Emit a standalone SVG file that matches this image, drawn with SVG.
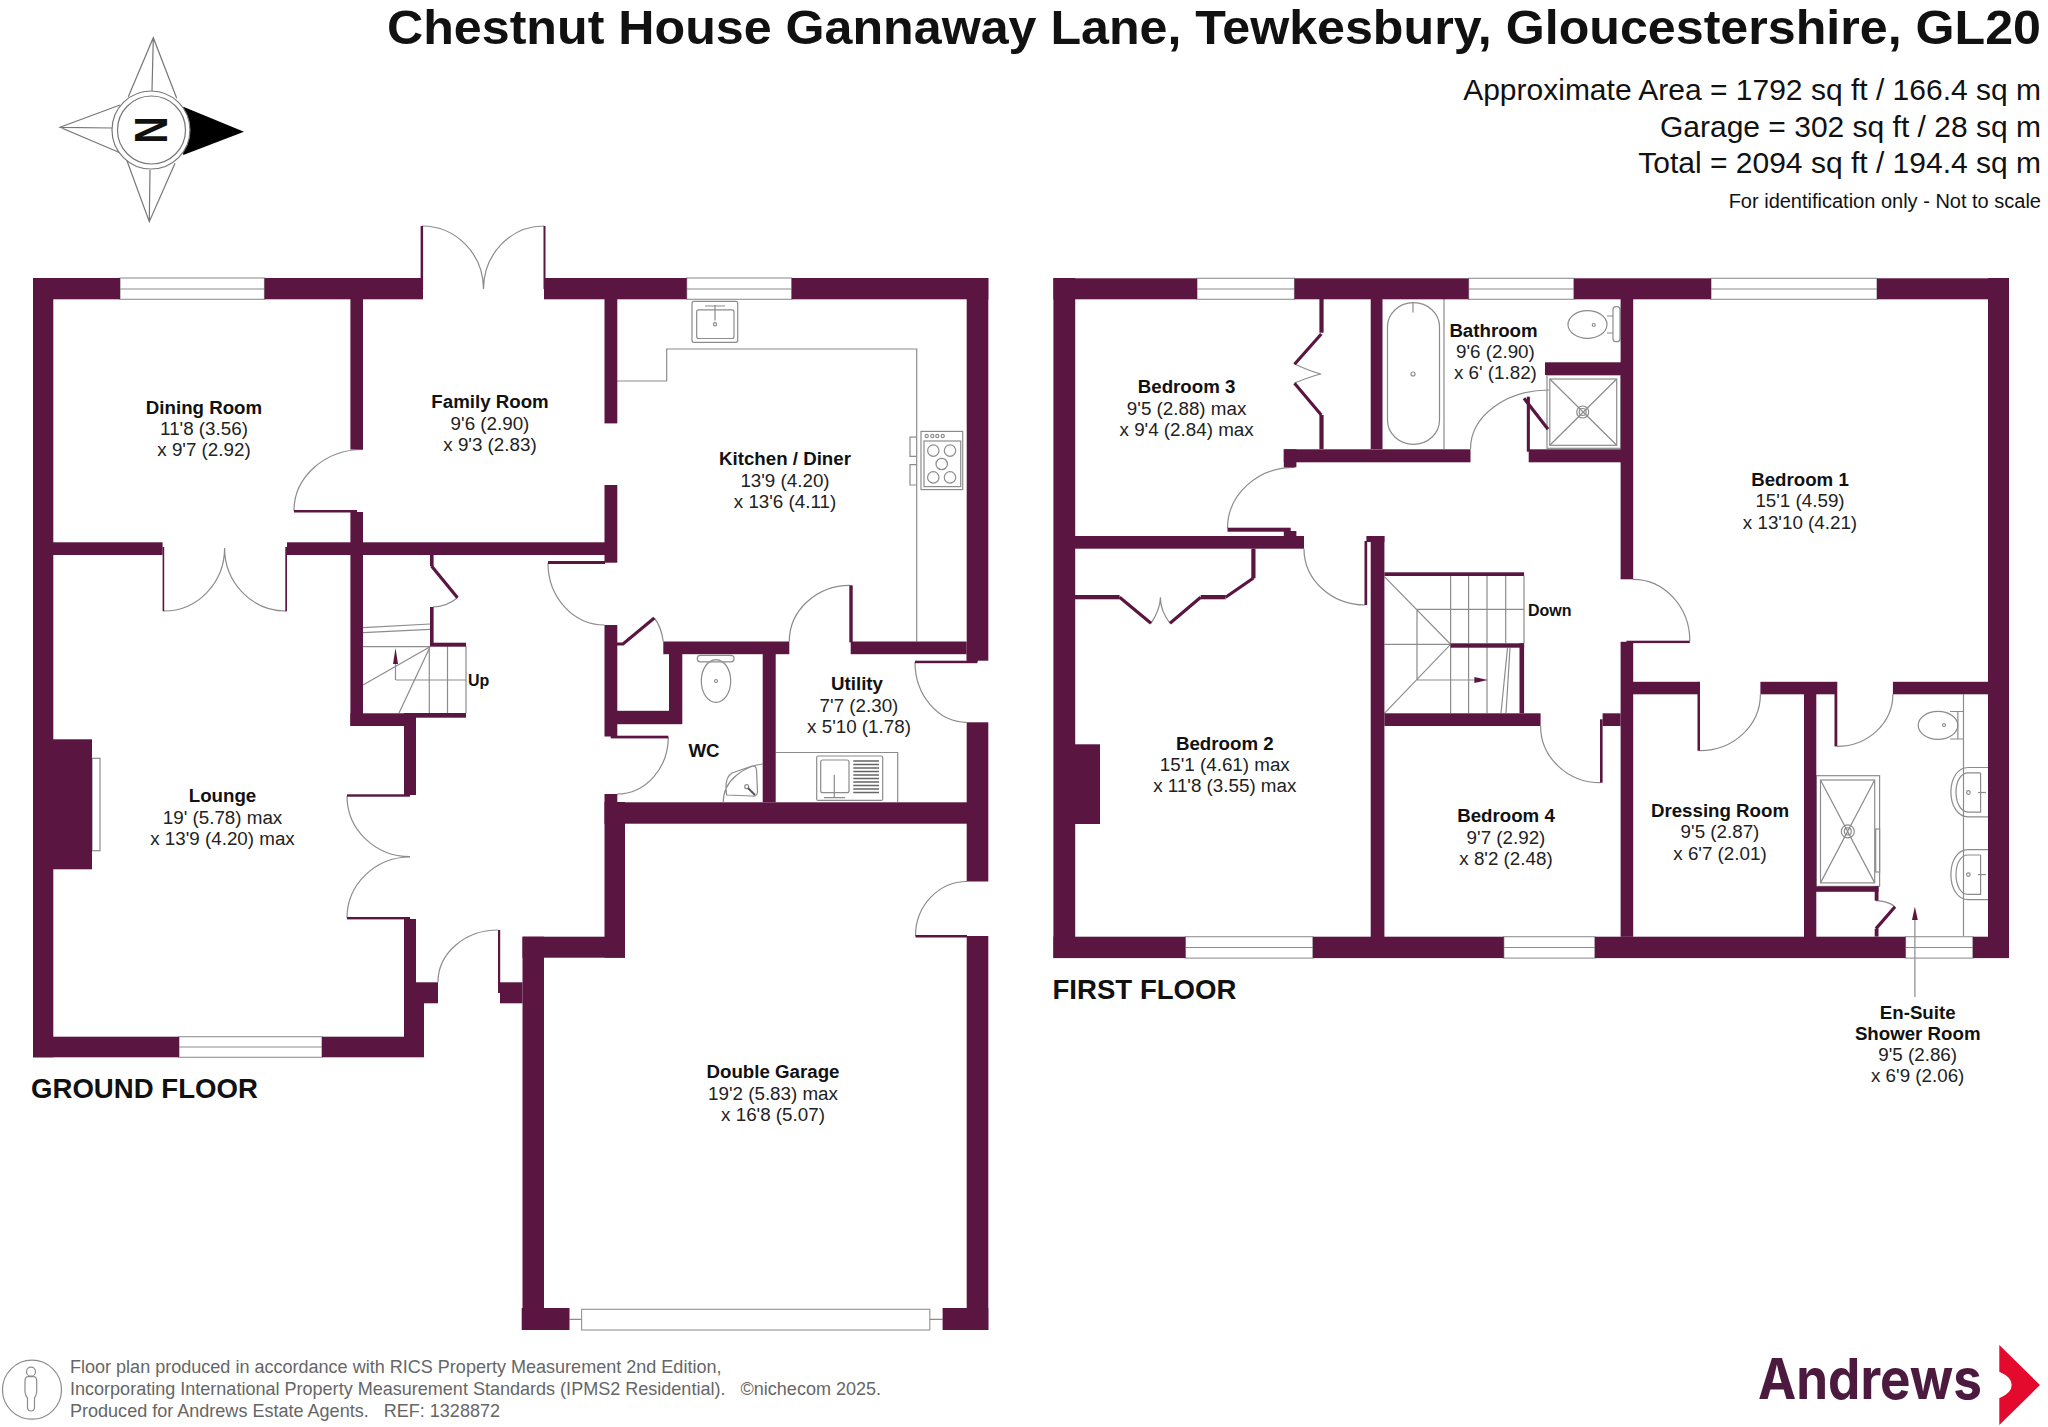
<svg xmlns="http://www.w3.org/2000/svg" width="2048" height="1427" viewBox="0 0 2048 1427">
<style>
text{font-family:"Liberation Sans",Arial,sans-serif;fill:#111}
.n{font-weight:700;font-size:18.7px;text-anchor:middle}
.d{font-size:18.8px;text-anchor:middle;fill:#222}
.s{font-weight:700;font-size:16px}
.fl{font-weight:700;font-size:27.6px}
.a{font-size:30px;text-anchor:end}
.f{font-size:18.05px;fill:#666}
.w{fill:#5b1541}
.l{fill:none;stroke:#8c8c8c;stroke-width:1.2}
.t{fill:none;stroke:#5b1541;stroke-width:3.2}
.win{fill:#fff;stroke:#9a9a9a;stroke-width:1.2}
.c{fill:none;stroke:#777;stroke-width:1.2}
</style>
<rect width="2048" height="1427" fill="#fff"/>

<g id="header">
<text x="2041" y="44" text-anchor="end" font-weight="700" font-size="48.6" textLength="1654" lengthAdjust="spacingAndGlyphs">Chestnut House Gannaway Lane, Tewkesbury, Gloucestershire, GL20</text>
<text class="a" x="2041" y="100">Approximate Area = 1792 sq ft / 166.4 sq m</text>
<text class="a" x="2041" y="137">Garage = 302 sq ft / 28 sq m</text>
<text class="a" x="2041" y="173">Total = 2094 sq ft / 194.4 sq m</text>
<text x="2041" y="208" text-anchor="end" font-size="20">For identification only - Not to scale</text>
</g>

<g id="compass">
<path class="c" d="M128.3,96.7 L153.3,37.7 L176.7,98.3 M153.3,37.7 L152,91 M120,105 L60,127.3 L120,152.7 M60,127.3 L112,128 M126.7,160 L149.3,221.7 L175,163.3 M149.3,221.7 L150,170"/>
<polygon points="183.3,106.7 244,131.7 183.3,155" fill="#000"/>
<path d="M183.3,106.7 Q195,131 183.3,155 Z" fill="#000"/>
<circle cx="151" cy="130" r="39" fill="#fff" stroke="#777" stroke-width="1.2"/>
<circle cx="151.5" cy="130" r="34" fill="#fff" stroke="#777" stroke-width="1.2"/>
<text x="0" y="0" transform="translate(135,116.5) rotate(90)" font-weight="700" font-size="46" fill="#000" textLength="27" lengthAdjust="spacingAndGlyphs">N</text>
</g>

<g id="ground-floor">
<g id="ground-fixtures">
<rect class="win" x="120" y="278" width="144.5" height="21.3"/><path class="l" d="M120,289H264.5"/>
<rect class="win" x="686.7" y="278" width="105" height="21.3"/><path class="l" d="M686.7,289H791.7"/>
<rect class="win" x="179" y="1036.7" width="143" height="20.6"/><path class="l" d="M179,1047H322"/>
<rect class="win" x="581.6" y="1309.3" width="348.2" height="20.7"/><path class="l" d="M569.5,1319.3H581.6M929.8,1319.3H942.6"/>
<rect class="l" x="92" y="758.3" width="8" height="92.4"/>
<rect class="l" x="692" y="301.3" width="45.7" height="41" rx="2"/><rect class="l" x="696.7" y="309.8" width="37.3" height="28.7" rx="2"/>
<path class="l" d="M715,305V320.5M705,306H725"/><circle class="l" cx="715" cy="324.3" r="1.6"/>
<path class="l" d="M617,381H666.7V349H916.7V641.5"/>
<rect class="l" x="921" y="431.4" width="41.7" height="58.2"/><rect class="l" x="924" y="441" width="36.7" height="45.6"/>
<circle class="l" cx="933.3" cy="450.6" r="5.7"/><circle class="l" cx="950" cy="450.6" r="5.7"/><circle class="l" cx="941.7" cy="464" r="5.7"/><circle class="l" cx="933.3" cy="477.4" r="5.7"/><circle class="l" cx="950" cy="477.4" r="5.7"/>
<circle class="l" cx="926.7" cy="436" r="1.6"/><circle class="l" cx="932.3" cy="436" r="1.6"/><circle class="l" cx="937.3" cy="436" r="1.6"/><circle class="l" cx="942.7" cy="436" r="1.6"/>
<path class="l" d="M916.7,437.2H910V456.3H916.7M916.7,464.7H910V485H916.7"/>
<rect class="l" x="697.3" y="655.3" width="36.7" height="6.5" rx="3"/><ellipse class="l" cx="716" cy="681" rx="14.7" ry="21.4"/><circle class="l" cx="716" cy="681" r="1.5"/>
<path class="l" d="M723.3,802C723,780 745,766 762.7,764M726.7,795Q724,778 732,773L752,766Q756,765 756.5,770L757.5,792Q757,797 752,796Z"/><circle class="l" cx="746.7" cy="786.7" r="2"/><path d="M748,788L755,795" stroke="#555" stroke-width="2" fill="none"/>
<path class="l" d="M775.7,752.5H897.7V802"/>
<rect class="l" x="816.7" y="756" width="66" height="44.4" rx="1.5"/><rect class="l" x="820.7" y="760" width="28.3" height="32.7" rx="2"/>
<path class="l" d="M834.3,774.7V797.7M824,797.7H845"/>
<path d="M853.3,761H879M853.3,764.5H879M853.3,768H879M853.3,771.5H879M853.3,775H879M853.3,778.5H879M853.3,782H879M853.3,785.5H879M853.3,789H879M853.3,792.5H879" stroke="#666" stroke-width="1.3" fill="none"/>
<path class="l" d="M363,627.7L430,624M363,632.7L430,629.3M363,646.7H430M363,685L430,646.7M399,713L430,647M429.3,646V713M447.5,646V713M466,646V713M396,680H466M395.5,680V660"/>
<polygon class="w" points="395.5,648 393,664 398,664"/>
</g>
<g id="ground-doors" fill="none">
<path class="l" d="M422,226A61.5,63 0 0 1 483.5,289M544,226A60.5,63 0 0 0 483.5,289"/>
<path class="l" d="M363,449.5A69,61 0 0 0 294,510.7"/>
<path class="l" d="M164,611A60.6,63 0 0 0 224.6,548M286,611A61.4,63 0 0 1 224.6,548"/>
<path class="l" d="M548,563A56.5,62 0 0 0 604.5,625"/>
<path class="l" d="M347,796A63,60.7 0 0 0 410,856.7M347,918A63,61 0 0 1 410,857"/>
<path class="l" d="M498,930A60,52 0 0 0 438,982"/>
<path class="l" d="M850,585.3A60.7,56.2 0 0 0 789.3,641.5"/>
<path class="l" d="M915,662A51.7,60.3 0 0 0 966.7,722.3"/>
<path class="l" d="M967,881.5A51.5,54.5 0 0 0 915.5,936"/>
<path class="l" d="M668.3,737A51.3,57 0 0 1 617,794"/>
<path class="l" d="M457.5,597.7Q446,607 433,607M654.3,618Q661,626 663.3,641.5"/>
<path class="t" d="M431.5,566L457.5,597.7M617,644L623,644L654.3,618"/>
</g>
<g id="ground-walls" class="w">
<rect x="33" y="278" width="87" height="21.3"/><rect x="264.5" y="278" width="158.5" height="21.3"/><rect x="544" y="278" width="142.7" height="21.3"/><rect x="791.7" y="278" width="196.6" height="21.3"/>
<rect x="420.6" y="226" width="2.5" height="63"/><rect x="543.5" y="226" width="2" height="63"/>
<rect x="33" y="278" width="20.3" height="779.3"/>
<rect x="350.4" y="299" width="12.6" height="150.5"/><rect x="350.4" y="512" width="12.6" height="214"/><rect x="294" y="510" width="63" height="2.5"/>
<rect x="53" y="542.3" width="109.6" height="12.7"/><rect x="287" y="542.3" width="330" height="12.7"/>
<rect x="162.6" y="547" width="1.6" height="64.3"/><rect x="285.3" y="547" width="1.7" height="64.3"/>
<rect x="604.5" y="299" width="12.8" height="124.4"/><rect x="604.5" y="485" width="12.8" height="77.7"/><rect x="548" y="561" width="57" height="3"/>
<rect x="604.5" y="625" width="12.8" height="111.5"/><rect x="604.5" y="794" width="12.8" height="30"/><rect x="604.5" y="802" width="20.5" height="155.7"/>
<rect x="522.5" y="936.7" width="102.5" height="21"/><rect x="522.5" y="936.7" width="21.5" height="393.3"/><rect x="617" y="802.3" width="350" height="21.4"/>
<rect x="966.7" y="278" width="21.6" height="382.7"/><rect x="966.7" y="722.3" width="21.6" height="159.2"/><rect x="966.7" y="936" width="21.6" height="394"/>
<rect x="915" y="660.7" width="62" height="2.5"/><rect x="915.5" y="935" width="51.5" height="2.5"/><rect x="966.7" y="654" width="11" height="8.6"/>
<rect x="663.3" y="641.5" width="126" height="12.7"/><rect x="850.7" y="641.5" width="116" height="12.7"/><rect x="849.3" y="585.3" width="3.4" height="57"/>
<rect x="762.7" y="654" width="13" height="148.3"/><rect x="669" y="642" width="13.3" height="82"/><rect x="617" y="710.8" width="65" height="13.4"/><rect x="610.7" y="735.7" width="57.6" height="2.7"/>
<rect x="430" y="555" width="3.6" height="11"/><rect x="430" y="607" width="3.6" height="36"/><rect x="430" y="642.7" width="36" height="4"/>
<rect x="350.4" y="713.3" width="65.6" height="12.7"/><rect x="416" y="713" width="50" height="4.7"/><rect x="404" y="713" width="12" height="82"/>
<rect x="347" y="794.3" width="63" height="2.4"/><rect x="347" y="917" width="63" height="2.4"/><rect x="404" y="919" width="12" height="118"/>
<rect x="33" y="1036.7" width="146" height="20.6"/><rect x="322" y="1036.7" width="102" height="20.6"/><rect x="416" y="982.3" width="22" height="21"/><rect x="416" y="1003" width="8" height="54"/>
<rect x="498" y="930" width="2.2" height="63"/><rect x="500" y="982.3" width="22.5" height="21"/>
<rect x="53" y="739.3" width="39" height="130"/>
<rect x="521.7" y="1308" width="47.8" height="22"/><rect x="942.6" y="1308" width="45.7" height="22"/>
</g>
<g id="ground-labels">
<g id="dining-room"><text class="n" x="204" y="414">Dining Room</text><text class="d" x="204" y="435">11'8 (3.56)</text><text class="d" x="204" y="456">x 9'7 (2.92)</text></g>
<g id="family-room"><text class="n" x="490" y="408">Family Room</text><text class="d" x="490" y="429.5">9'6 (2.90)</text><text class="d" x="490" y="450.5">x 9'3 (2.83)</text></g>
<g id="kitchen-diner"><text class="n" x="785" y="465">Kitchen / Diner</text><text class="d" x="785" y="486.5">13'9 (4.20)</text><text class="d" x="785" y="507.5">x 13'6 (4.11)</text></g>
<g id="utility"><text class="n" x="857" y="690">Utility</text><text class="d" x="859" y="711.5">7'7 (2.30)</text><text class="d" x="859" y="732.5">x 5'10 (1.78)</text></g>
<g id="wc"><text class="n" x="704" y="756.5">WC</text></g>
<g id="lounge"><text class="n" x="222.5" y="802">Lounge</text><text class="d" x="222.5" y="823.5">19' (5.78) max</text><text class="d" x="222.5" y="844.5">x 13'9 (4.20) max</text></g>
<g id="double-garage"><text class="n" x="773" y="1078">Double Garage</text><text class="d" x="773" y="1099.5">19'2 (5.83) max</text><text class="d" x="773" y="1120.5">x 16'8 (5.07)</text></g>
<text class="s" x="468" y="686">Up</text>
<text class="fl" x="31" y="1098">GROUND FLOOR</text>
</g>
</g>

<g id="first-floor">
<g id="first-fixtures">
<rect class="win" x="1197" y="278.3" width="97.5" height="21"/><path class="l" d="M1197,289H1294.5"/>
<rect class="win" x="1468.6" y="278.3" width="105.3" height="21"/><path class="l" d="M1468.6,289H1573.9"/>
<rect class="win" x="1711" y="278.3" width="166" height="21"/><path class="l" d="M1711,289H1877"/>
<rect class="win" x="1185.4" y="936.7" width="127.5" height="21.4"/><path class="l" d="M1185.4,947.5H1312.9"/>
<rect class="win" x="1503.8" y="936.7" width="91.1" height="21.4"/><path class="l" d="M1503.8,947.5H1594.9"/>
<rect class="win" x="1905.5" y="936.7" width="67.4" height="21.4"/><path class="l" d="M1905.5,947.5H1972.9"/>
<rect class="l" x="1387.5" y="302.7" width="52" height="141.6" rx="26" ry="24"/><path class="l" d="M1444,299V449M1413,302V312.5"/><circle class="l" cx="1413" cy="374" r="2"/>
<ellipse class="l" cx="1587.5" cy="324.5" rx="19.5" ry="13.8"/><rect class="l" x="1613" y="306.7" width="7" height="35" rx="3"/><path class="l" d="M1607,316H1613M1607,333H1613"/><circle class="l" cx="1593.8" cy="325" r="1.5"/>
<rect class="l" x="1547" y="375" width="74" height="73.3"/><rect class="l" x="1549.8" y="379" width="66.9" height="66.3"/>
<path class="l" d="M1549.8,379L1616.7,445.3M1616.7,379L1549.8,445.3"/><circle class="l" cx="1582.7" cy="412" r="6" fill="#fff"/><circle class="l" cx="1582.7" cy="412" r="3.5"/>
<path class="l" d="M1384.4,576.7L1450.6,644.3L1384.4,713.3M1417,609.3H1524M1417,609.3V680M1384.4,644.3H1450.6M1417,680H1475M1524,576V643M1450.6,576V713M1468.6,576V643M1468.6,647V713M1487,576V643M1487,647V713M1505.7,576V643M1510,648L1506,713M1507.5,648L1501,713"/>
<polygon class="w" points="1474.4,677 1487.8,680 1474.4,683"/>
<path class="l" d="M1963.5,694.3V936"/>
<ellipse class="l" cx="1938" cy="725.3" rx="19.8" ry="14"/><path class="l" d="M1950,711.5H1963.5M1950,739H1963.5M1957.9,711.5V739"/><circle class="l" cx="1944" cy="725" r="1.5"/>
<path class="l" d="M1988,767.5H1968C1958,767.5 1950.9,778 1950.9,792C1950.9,806 1958,816.8 1968,816.8H1988M1980.6,772.9H1968C1961,772.9 1956,781 1956,792C1956,803 1961,812.1 1968,812.1H1980.6V772.9"/>
<path class="l" d="M1988,849.6H1968C1958,849.6 1950.9,860 1950.9,874.6C1950.9,889 1958,899.6 1968,899.6H1988M1980.6,855H1968C1961,855 1956,863 1956,874.6C1956,886 1961,894.3 1968,894.3H1980.6V855"/>
<circle class="l" cx="1968.4" cy="792.5" r="1.8"/><path class="l" d="M1978,792.5H1986"/><circle class="l" cx="1968.4" cy="874.6" r="1.8"/><path class="l" d="M1978,874.6H1986"/>
<rect class="l" x="1816.3" y="775.7" width="63.3" height="110.7"/><rect class="l" x="1820.5" y="780" width="54.2" height="102.9"/>
<path class="l" d="M1820.5,780L1874.7,882.9M1874.7,780L1820.5,882.9"/><circle class="l" cx="1847.8" cy="831.4" r="6.5" fill="#fff"/><circle class="l" cx="1847.8" cy="831.4" r="3.5"/>
<rect class="l" x="1875.7" y="829" width="3.9" height="43"/>
<path class="l" d="M1914.9,997V915"/><polygon class="w" points="1914.9,906.8 1912,920 1917.8,920"/>
</g>
<g id="first-doors">
<path class="l" d="M1294.5,467.3A67,61 0 0 0 1227.5,528.3"/>
<path class="l" d="M1304,548.7A61.3,56.3 0 0 0 1365.3,605"/>
<path class="l" d="M1470.5,449A78.5,59 0 0 1 1549,390"/>
<path class="l" d="M1540.6,726A60,56.7 0 0 0 1600.6,782.7"/>
<path class="l" d="M1633,579.3A56.8,61.7 0 0 1 1689.8,641"/>
<path class="l" d="M1700,750.7A60.4,56.4 0 0 0 1760.4,694.3"/>
<path class="l" d="M1837,746.4A55.9,52.1 0 0 0 1892.9,694.3"/>
<path class="l" d="M1294.5,364Q1312,372 1321,374Q1312,376 1294.5,383M1170,623.3Q1160,610 1160.5,597.3Q1160,610 1151,623.3M1876,900.7Q1888,901 1895,906.8"/>
<path class="t" d="M1321.3,334L1294.5,364.3M1294.5,383.3L1321.3,415M1524,398.3L1548,429.3M1253.5,578L1225.6,597.3M1200.7,597.3L1170,623.3M1151,623.3L1119.6,597.3M1876,928.6L1895,906.8"/>
</g>
<g id="first-walls" class="w">
<rect x="1053.4" y="278.3" width="143.6" height="21"/><rect x="1294.5" y="278.3" width="174.1" height="21"/><rect x="1573.9" y="278.3" width="137.1" height="21"/><rect x="1877" y="278.3" width="132" height="21"/>
<rect x="1053.4" y="278" width="21.8" height="680"/>
<rect x="1053.4" y="936.7" width="132" height="21.4"/><rect x="1312.9" y="936.7" width="190.9" height="21.4"/><rect x="1594.9" y="936.7" width="310.6" height="21.4"/><rect x="1972.9" y="936.7" width="36.1" height="21.4"/>
<rect x="1988" y="278" width="21" height="680"/>
<rect x="1319.4" y="299" width="4.2" height="33.7"/><rect x="1319.4" y="415" width="4.2" height="34"/>
<rect x="1283.8" y="449.3" width="186.7" height="13"/><rect x="1528.7" y="449.3" width="92.3" height="13"/><rect x="1283.8" y="449.3" width="12.6" height="18"/>
<rect x="1370.7" y="299" width="11.8" height="150"/><rect x="1545" y="362.3" width="76" height="12.7"/><rect x="1526.8" y="396.7" width="3.1" height="55"/>
<rect x="1620.6" y="299" width="12.6" height="280.3"/><rect x="1620.6" y="641.8" width="12.6" height="295"/><rect x="1626.5" y="640.7" width="63.3" height="2.4"/>
<rect x="1227.5" y="527.7" width="63.2" height="4"/><rect x="1283.8" y="531" width="12.6" height="6"/><rect x="1075" y="536" width="229" height="12.7"/>
<rect x="1251.3" y="548.7" width="4.2" height="29.6"/><rect x="1075" y="595" width="44.6" height="4.3"/><rect x="1200.7" y="595" width="24.9" height="4.3"/>
<rect x="1366.4" y="536" width="18" height="6"/><rect x="1364.5" y="541" width="2.7" height="64"/><rect x="1370.7" y="536" width="13.7" height="401"/>
<rect x="1384.4" y="572.3" width="139.7" height="3.7"/><rect x="1450.6" y="643.3" width="73.5" height="4.4"/><rect x="1519.5" y="643.3" width="4.6" height="70"/>
<rect x="1384.4" y="713.3" width="156.2" height="12.7"/><rect x="1602.6" y="713.3" width="18" height="12.7"/><rect x="1600" y="719.3" width="2.6" height="63.4"/>
<rect x="1075" y="744.3" width="25" height="79.7"/>
<rect x="1633" y="681.8" width="65.5" height="12.5"/><rect x="1697.5" y="681.8" width="2.5" height="69"/><rect x="1760.4" y="681.8" width="75" height="12.5"/><rect x="1834.5" y="681.8" width="2.8" height="64.6"/><rect x="1892.9" y="681.8" width="95.1" height="12.5"/>
<rect x="1804" y="694" width="12.3" height="243"/>
<rect x="1816" y="886.4" width="62.5" height="5.4"/><rect x="1874.7" y="886.4" width="3.8" height="14.3"/><rect x="1874.7" y="928.6" width="3.8" height="8"/>
</g>
<g id="first-labels">
<g id="bedroom-3"><text class="n" x="1186.6" y="393">Bedroom 3</text><text class="d" x="1186.6" y="414.6">9'5 (2.88) max</text><text class="d" x="1186.6" y="436">x 9'4 (2.84) max</text></g>
<g id="bathroom"><text class="n" x="1493.5" y="336.5">Bathroom</text><text class="d" x="1495.4" y="358">9'6 (2.90)</text><text class="d" x="1495.4" y="379">x 6' (1.82)</text></g>
<g id="bedroom-1"><text class="n" x="1800" y="486">Bedroom 1</text><text class="d" x="1800" y="507">15'1 (4.59)</text><text class="d" x="1800" y="529">x 13'10 (4.21)</text></g>
<g id="bedroom-2"><text class="n" x="1224.8" y="750">Bedroom 2</text><text class="d" x="1224.8" y="771">15'1 (4.61) max</text><text class="d" x="1224.8" y="792">x 11'8 (3.55) max</text></g>
<g id="bedroom-4"><text class="n" x="1506" y="822">Bedroom 4</text><text class="d" x="1506" y="843.5">9'7 (2.92)</text><text class="d" x="1506" y="865">x 8'2 (2.48)</text></g>
<g id="dressing-room"><text class="n" x="1720" y="817">Dressing Room</text><text class="d" x="1720" y="838">9'5 (2.87)</text><text class="d" x="1720" y="860">x 6'7 (2.01)</text></g>
<g id="en-suite"><text class="n" x="1917.7" y="1019">En-Suite</text><text class="n" x="1917.7" y="1040">Shower Room</text><text class="d" x="1917.7" y="1061">9'5 (2.86)</text><text class="d" x="1917.7" y="1082">x 6'9 (2.06)</text></g>
<text class="s" x="1528" y="616">Down</text>
<text class="fl" x="1052.5" y="999">FIRST FLOOR</text>
</g>
</g>

<g id="footer">
<circle class="l" cx="32" cy="1389.7" r="29.5"/>
<circle class="l" cx="31" cy="1371.7" r="4.5"/>
<path class="l" d="M28,1376.7H34Q36.7,1377 36.7,1381V1392Q36,1396 34.5,1398V1408Q34,1411 31,1411Q28,1411 27.5,1408V1398Q25.5,1396 25,1392V1381Q25,1377 28,1376.7Z"/>
<text class="f" x="70" y="1373">Floor plan produced in accordance with RICS Property Measurement 2nd Edition,</text>
<text class="f" x="70" y="1395" xml:space="preserve">Incorporating International Property Measurement Standards (IPMS2 Residential).   ©nichecom 2025.</text>
<text class="f" x="70" y="1417" xml:space="preserve">Produced for Andrews Estate Agents.   REF: 1328872</text>
</g>

<g id="logo">
<text x="1758" y="1399" font-weight="700" font-size="56" textLength="224" lengthAdjust="spacingAndGlyphs" style="font-family:Inter,'Liberation Sans',sans-serif;fill:#4d1a3f">Andrews</text>
<path d="M1999.3,1345L2040,1385L1999.3,1425V1398.3Q2011.7,1393 2011.7,1385Q2011.7,1377 1999.3,1371.7Z" fill="#e30a2d"/>
</g>
</svg>
